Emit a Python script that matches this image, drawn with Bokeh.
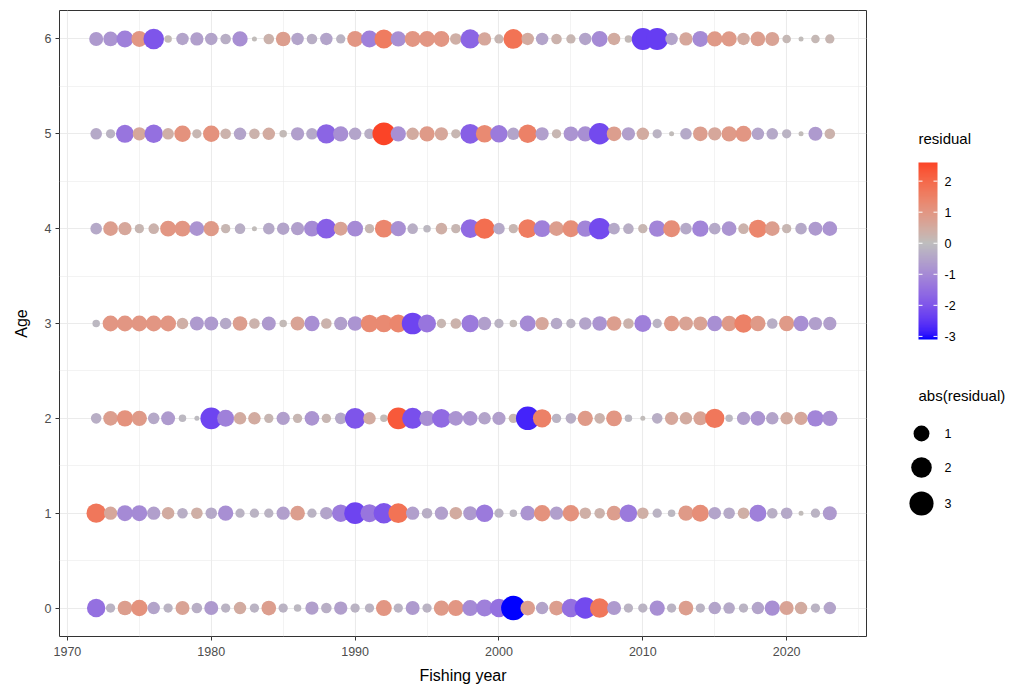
import numpy as np
from bokeh.plotting import figure
from bokeh.models import Range1d, FixedTicker, LinearColorMapper, ColumnDataSource
from bokeh.layouts import row
from bokeh.embed import file_html
from bokeh.resources import INLINE
from bokeh.core.properties import value

# ---------------- data ----------------
years = list(range(1972, 2024))
ages = [0, 1, 2, 3, 4, 5, 6]

res_age0 = [-1.5, -0.2, 0.8, 1.1, -0.5, -0.2, 0.7, -0.3, -0.7, -0.2,
            0.5, -0.2, 0.8, -0.2, -0.1, -0.6, -0.3, -0.6, -0.2, -0.2,
            1.0, -0.2, -0.7, -0.2, 0.9, 1.0, -1.0, -1.2, -1.5, -3.1,
            0.8, -0.5, 0.8, -1.5, -2.2, 1.7, -0.7, -0.2, -0.2, -0.9,
            -0.2, 0.8, -0.2, -0.5, -0.4, -0.2, -0.5, -0.9, 0.7, 0.5,
            -0.2, -0.5]
res_age1 = [1.7, 0.6, -1.0, -1.0, -0.6, 0.5, -0.3, 0.4, -0.4, -0.9,
            -0.2, -0.2, -0.2, -0.6, 0.8, -0.2, -0.5, -1.3, -2.3, -1.4,
            -2.0, 1.8, -0.6, -0.3, -0.6, 0.5, -0.7, -1.3, -0.2, -0.1,
            -0.8, 1.1, -0.6, 1.1, 0.4, 0.3, 0.8, -1.3, 0.4, -0.2,
            -0.1, 0.9, 1.2, -0.5, -0.4, 0.4, -1.2, -0.3, -0.4, 0.05,
            -0.2, -0.7]
res_age2 = [-0.3, 0.8, 1.1, 0.9, -0.4, -0.7, -0.1, -0.05, -2.3, -1.2,
            0.5, 0.5, 0.2, -0.6, 0.2, -0.8, 0.2, -0.4, -2.0, 0.5,
            0.1, 2.3, -2.1, -0.9, -1.6, -0.8, -0.8, -0.5, -0.6, 0.2,
            -2.8, 1.5, -0.2, -0.3, 0.9, 0.3, 1.0, -0.1, 0.05, -0.3,
            0.6, 0.5, 0.7, 1.7, -0.1, -0.6, -0.8, -0.5, 0.5, 0.6,
            -1.1, -0.9]
res_age3 = [-0.1, 1.0, 1.0, 1.0, 1.0, 1.0, 0.4, -0.7, -0.7, -0.4,
            0.8, 0.3, -0.7, 0.1, 0.7, -0.9, 0.3, -0.6, -0.8, 1.3,
            1.3, 1.4, -2.3, -1.4, 0.2, 0.3, -1.3, -0.6, -0.2, 0.1,
            -1.0, 0.6, -0.4, -0.2, -0.5, -0.8, 0.8, 0.3, -1.2, -0.2,
            0.9, 0.7, 0.7, -0.9, 0.9, 1.5, 0.9, -0.3, 0.9, -0.9,
            -0.6, -0.6]
res_age4 = [-0.4, 0.8, 0.6, 0.2, 0.3, 1.0, 1.0, -0.8, 0.9, 0.2,
            -0.3, 0.05, -0.4, -0.5, -0.6, -1.0, -1.8, 0.7, -1.0, 0.2,
            1.4, -0.9, -0.3, -0.1, 0.4, 0.2, -1.6, 1.9, -0.4, 0.2,
            1.6, -1.2, 0.8, 1.2, -1.1, -2.2, -0.4, -0.3, 0.2, -1.1,
            1.2, -0.4, -1.1, -0.4, -0.8, 0.3, 1.4, 0.8, 0.2, -0.4,
            -0.7, -0.8]
res_age5 = [-0.4, -0.2, -1.4, 0.6, -1.5, 0.4, 1.1, 0.2, 1.1, 0.3,
            -0.5, 0.3, 0.5, 0.1, -0.6, -0.4, -1.7, -0.9, -0.5, -0.3,
            2.6, -0.9, 0.5, 0.9, 0.6, 0.2, -1.8, 1.3, -1.3, -0.5,
            1.5, -0.6, 0.2, -0.8, -0.9, -2.2, 0.8, -0.6, 0.5, -0.2,
            0.05, -0.4, 0.8, 0.6, 0.9, 1.0, -0.5, -0.4, -0.2, 0.05,
            -0.7, 0.3]
res_age6 = [-0.7, -0.8, -1.2, 1.0, -2.0, 0.1, -0.5, -0.6, -0.5, -0.3,
            -0.9, 0.05, 0.3, 0.8, -0.5, -0.3, -0.5, -0.2, 1.0, -1.2,
            1.6, -0.9, 1.0, 1.0, 1.0, 0.4, -1.7, 0.6, 0.2, 1.8,
            0.5, -0.5, 0.3, 0.2, -0.5, -1.0, 0.5, 0.1, -2.4, -2.4,
            -0.5, 0.6, -1.0, 0.9, 0.9, 0.5, 0.8, 0.7, 0.15, 0.05,
            0.15, 0.2]

x_ticks = [1970, 1980, 1990, 2000, 2010, 2020]
x_minor = [1975, 1985, 1995, 2005, 2015, 2025]
y_ticks = [0, 1, 2, 3, 4, 5, 6]
y_minor = [0.5, 1.5, 2.5, 3.5, 4.5, 5.5]
cbar_ticks = [-3, -2, -1, 0, 1, 2]
size_breaks = [1, 2, 3]

residuals = [res_age0, res_age1, res_age2, res_age3, res_age4, res_age5, res_age6]

# ---------------- colour scale (gradient2 in Lab) ----------------
def _lin(c):
    return c / 12.92 if c <= 0.04045 else ((c + 0.055) / 1.055) ** 2.4

def _gam(c):
    c = min(max(c, 0.0), 1.0)
    return 12.92 * c if c <= 0.0031308 else 1.055 * c ** (1 / 2.4) - 0.055

M = np.array([[0.4124564, 0.3575761, 0.1804375],
              [0.2126729, 0.7151522, 0.0721750],
              [0.0193339, 0.1191920, 0.9503041]])
Minv = np.linalg.inv(M)
WHITE = np.array([0.95047, 1.0, 1.08883])
D = 6 / 29

def hex2lab(h):
    rgb = np.array([_lin(int(h[i:i + 2], 16) / 255) for i in (1, 3, 5)])
    xyz = M @ rgb / WHITE
    f = np.where(xyz > D ** 3, np.cbrt(xyz), xyz / (3 * D * D) + 4 / 29)
    return np.array([116 * f[1] - 16, 500 * (f[0] - f[1]), 200 * (f[1] - f[2])])

def lab2hex(lab):
    L_, a, b = lab
    fy = (L_ + 16) / 116
    f = np.array([fy + a / 500, fy, fy - b / 200])
    xyz = np.where(f > D, f ** 3, 3 * D * D * (f - 4 / 29)) * WHITE
    rgb = Minv @ xyz
    return "#" + "".join("%02x" % int(round(_gam(c) * 255)) for c in rgb)

low_c, mid_c, high_c = hex2lab("#0000FF"), hex2lab("#BEBEBE"), hex2lab("#FF0000")
palette = []
for t in np.linspace(0, 1, 256):
    if t < 0.5:
        u = t / 0.5
        palette.append(lab2hex(low_c + (mid_c - low_c) * u))
    else:
        u = (t - 0.5) / 0.5
        palette.append(lab2hex(mid_c + (high_c - mid_c) * u))

all_res = np.array([v for r in residuals for v in r])
vmin, vmax = all_res.min(), all_res.max()
mabs = max(abs(vmin), abs(vmax))
mapper = LinearColorMapper(palette=palette, low=-mabs, high=mabs)

amin, amax = np.abs(all_res).min(), np.abs(all_res).max()

def size_of(a):
    a = np.asarray(a, dtype=float)
    s = np.clip((a - amin) / (amax - amin), 0, 1)
    return 5.0 + 19.5 * np.sqrt(s)

xs, ys, rs = [], [], []
for age, r in zip(ages, residuals):
    for yr, v in zip(years, r):
        xs.append(yr)
        ys.append(age)
        rs.append(v)
src = ColumnDataSource(dict(year=xs, age=ys, res=rs, size=list(size_of(np.abs(rs)))))

FONT = "Liberation Sans"
H = 690
B_TOP, B_BOT = 10, 54

# ---------------- main panel ----------------
p = figure(width=880, height=H, output_backend="svg", toolbar_location=None,
           x_range=Range1d(1969.45, 2025.55), y_range=Range1d(-0.3, 6.3),
           min_border_left=59, min_border_right=14, min_border_top=B_TOP, min_border_bottom=B_BOT)
p.background_fill_color = "white"
p.border_fill_color = "white"
p.outline_line_color = "#333333"
p.outline_line_width = 1

p.xaxis.ticker = FixedTicker(ticks=x_ticks, minor_ticks=x_minor)
p.yaxis.ticker = FixedTicker(ticks=y_ticks, minor_ticks=y_minor)
for ax in (p.xaxis, p.yaxis):
    ax.axis_line_color = None
    ax.major_tick_line_color = "#333333"
    ax.major_tick_out = 4
    ax.major_tick_in = 0
    ax.minor_tick_line_color = None
    ax.major_label_text_font = FONT
    ax.major_label_text_font_size = "12.5px"
    ax.major_label_text_color = "#4D4D4D"
    ax.axis_label_text_font = FONT
    ax.axis_label_text_font_size = "16px"
    ax.axis_label_text_font_style = "normal"
    ax.axis_label_text_color = "black"
p.xaxis.axis_label = "Fishing year"
p.yaxis.axis_label = "Age"
p.xaxis.major_label_standoff = 6
p.yaxis.major_label_standoff = 4
p.xaxis.axis_label_standoff = 8
p.yaxis.axis_label_standoff = 12

for g in (p.xgrid, p.ygrid):
    g.grid_line_color = "#EBEBEB"
    g.grid_line_width = 1.1
    g.minor_grid_line_color = "#EBEBEB"
    g.minor_grid_line_width = 0.6

p.scatter(x="year", y="age", size="size", source=src,
          fill_color={"field": "res", "transform": mapper}, line_color=None)

# ---------------- legend panel (image-pixel coordinates, y negated) ----------------
L = figure(width=150, height=H, output_backend="svg", toolbar_location=None,
           x_range=Range1d(880, 1030), y_range=Range1d(-(H - B_BOT), -B_TOP),
           min_border_left=0, min_border_right=0,
           min_border_top=B_TOP, min_border_bottom=B_BOT)
L.axis.visible = False
L.grid.visible = False
L.outline_line_color = None
L.background_fill_color = "white"
L.border_fill_color = "white"

bar_x, bar_w = 918, 19
bar_top, bar_bot = 162, 339

L.text(x=[918], y=[-138], text=["residual"], text_align="left", text_baseline="middle",
       text_font=value(FONT), text_font_size="15px", text_color="black")
grad = np.linspace(vmin, vmax, 300).reshape(300, 1)
L.image(image=[grad], x=bar_x, y=-bar_bot, dw=bar_w, dh=bar_bot - bar_top, color_mapper=mapper)

def cb_y(v):
    return -(bar_bot - (v - vmin) / (vmax - vmin) * (bar_bot - bar_top))

tick_y = [cb_y(v) for v in cbar_ticks]
L.segment(x0=[bar_x] * len(cbar_ticks), x1=[bar_x + 4] * len(cbar_ticks), y0=tick_y, y1=tick_y,
          line_color="white", line_width=1)
L.segment(x0=[bar_x + bar_w - 4] * len(cbar_ticks), x1=[bar_x + bar_w] * len(cbar_ticks),
          y0=tick_y, y1=tick_y, line_color="white", line_width=1)
L.text(x=[944] * len(cbar_ticks), y=tick_y, text=[str(v) for v in cbar_ticks],
       text_align="left", text_baseline="middle", text_font=value(FONT),
       text_font_size="12.5px", text_color="black")

L.text(x=[918], y=[-395], text=["abs(residual)"], text_align="left", text_baseline="middle",
       text_font=value(FONT), text_font_size="15px", text_color="black")
key_y = [-433, -467, -503]
L.scatter(x=[921] * len(size_breaks), y=key_y, size=list(size_of(size_breaks)),
          fill_color="black", line_color=None)
L.text(x=[944] * len(size_breaks), y=key_y, text=[str(v) for v in size_breaks],
       text_align="left", text_baseline="middle", text_font=value(FONT),
       text_font_size="12.5px", text_color="black")

layout = row(p, L, spacing=0)
open("out.html", "w").write(file_html(layout, INLINE))
